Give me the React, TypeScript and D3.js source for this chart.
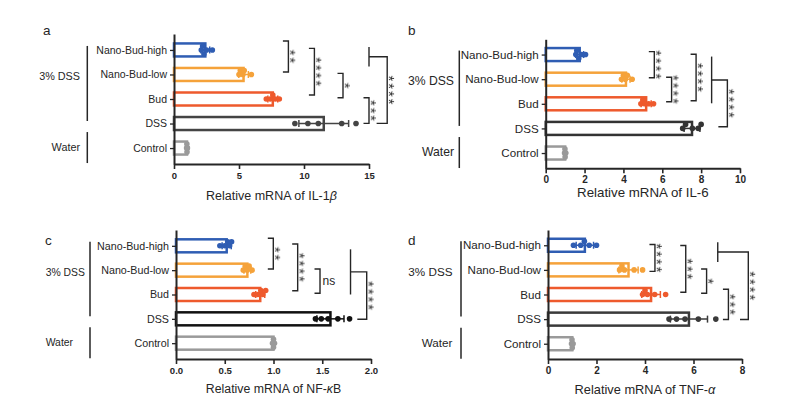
import React, { useEffect, useRef } from "react"
import * as d3 from "d3"

// first = top row of each panel
const groups = ["Nano-Bud-high", "Nano-Bud-low", "Bud", "DSS", "Control"]
const groupColors = ["#2f5db3", "#f5a23a", "#ee5a2d", "#3c3c3c", "#9a9a9a"]

// per-sample values (5 mice per group)
const il1bValues = [
  [2.1, 2.2, 2.3, 2.5, 2.95],
  [5.0, 5.1, 5.3, 5.4, 5.95],
  [7.1, 7.4, 7.6, 7.8, 8.1],
  [9.3, 10.3, 11.1, 12.9, 14.0],
  [0.97, 1.0, 1.02, 0.99, 1.03],
]
const il6Values = [
  [1.55, 1.6, 1.7, 1.85, 2.05],
  [3.9, 4.0, 4.1, 4.2, 4.45],
  [4.9, 5.0, 5.1, 5.3, 5.55],
  [7.05, 7.2, 7.55, 7.85, 8.0],
  [0.97, 1.0, 1.02, 0.99, 1.03],
]
const nfkbValues = [
  [0.45, 0.5, 0.53, 0.55, 0.57],
  [0.69, 0.71, 0.73, 0.75, 0.78],
  [0.8, 0.84, 0.87, 0.89, 0.92],
  [1.43, 1.49, 1.56, 1.66, 1.78],
  [0.99, 1.0, 1.01, 1.0, 1.0],
]
const tnfValues = [
  [1.05, 1.35, 1.5, 1.7, 2.0],
  [2.95, 3.05, 3.15, 3.55, 3.9],
  [3.9, 4.0, 4.1, 4.4, 4.85],
  [4.99, 5.3, 5.65, 6.2, 6.92],
  [0.97, 1.0, 1.02, 0.99, 1.03],
]

const il1bTicks = [0, 5, 10, 15]
const il6Ticks = [0, 2, 4, 6, 8, 10]
const nfkbTicks = [0, 0.5, 1.0, 1.5, 2.0]
const tnfTicks = [0, 2, 4, 6, 8]

// significance comparisons
const il1bSig = [
  { from: 0, to: 1, label: "**" },
  { from: 0, to: 2, label: "****" },
  { from: 1, to: 2, label: "*" },
  { from: 2, to: 3, label: "***" },
]
const il6Sig = [
  { from: 0, to: 1, label: "****" },
  { from: 1, to: 2, label: "****" },
  { from: 0, to: 2, label: "****" },
]
const nfkbSig = [
  { from: 0, to: 1, label: "**" },
  { from: 0, to: 2, label: "****" },
  { from: 1, to: 2, label: "ns" },
]
const tnfSig = [
  { from: 0, to: 1, label: "****" },
  { from: 0, to: 2, label: "***" },
  { from: 1, to: 2, label: "*" },
  { from: 2, to: 3, label: "***" },
]
const treatedVsDss = "****"

const font = "'Liberation Sans', Arial, Helvetica, sans-serif"
const ink = "#262626"

const panels = [
  {
    letter: "a", lx: 43, ly: 35, values: il1bValues, ticks: il1bTicks, fmt: d3.format("d"), max: 15,
    left: 174, right: 369, top: 34, bottom: 164, pad: 0.65,
    title: ["Relative mRNA of IL-1", "β", ""], titleY: 200, titleSize: 12.5, tickSize: 9.5, catSize: 10.5,
    grpSize: 10.8, grpAnchor: "end", grpX: 80, lineX: 87.3, dss: "#444",
    sig: il1bSig,
    sigPos: [
      { x: 8.8, o1: -9, o2: -2.5 },
      { x: 10.8, o1: -1.6, o2: -4 },
      { x: 13.0, o1: -1.1, o2: -1.3 },
      { x: 15.0, o1: -1.3, o2: -0.2 },
    ],
    big: { gx: 15.0, g0: 0, g1: 1, o1: -3, o2: -8, xr: 16.4, o3: -0.2, arm: 10.6 },
  },
  {
    letter: "b", lx: 408, ly: 35, values: il6Values, ticks: il6Ticks, fmt: d3.format("d"), max: 10,
    left: 545.7, right: 740, top: 39.3, bottom: 168.3, pad: 0.62,
    title: ["Relative mRNA of IL-6", "", ""], titleY: 196.5, titleSize: 13.3, tickSize: 10, catSize: 11.6,
    grpSize: 12.2, grpAnchor: "end", grpX: 454, lineX: 459.3, dss: "#333",
    sig: il6Sig,
    sigPos: [
      { x: 5.59, o1: -2.9, o2: -1.5 },
      { x: 6.48, o1: -1.9, o2: -2.1 },
      { x: 7.74, o1: -0.3, o2: -3.1 },
    ],
    big: { gx: 8.54, g0: 0, g1: 2, o1: 2, o2: -0.5, xr: 9.35, o3: -1.7, arm: 9 },
  },
  {
    letter: "c", lx: 45, ly: 245, values: nfkbValues, ticks: nfkbTicks, fmt: d3.format(".1f"), max: 2,
    left: 176, right: 371, top: 230, bottom: 359, pad: 0.65,
    title: ["Relative mRNA of NF-", "κ", "B"], titleY: 393, titleSize: 12.3, tickSize: 9.6, catSize: 10.7,
    grpSize: 10.4, grpAnchor: "start", grpX: 45.7, lineX: 90, dss: "#111",
    sig: nfkbSig,
    sigPos: [
      { x: 0.998, o1: -7.5, o2: -1.2 },
      { x: 1.248, o1: -1.8, o2: -3.8 },
      { x: 1.477, o1: -1.2, o2: -1.2 },
    ],
    big: { gx: 1.79, g0: 0, g1: 2, o1: 3.5, o2: 0, xr: 1.956, o3: 0.4, arm: 9.4 },
  },
  {
    letter: "d", lx: 408, ly: 245, values: tnfValues, ticks: tnfTicks, fmt: d3.format("d"), max: 8,
    left: 548, right: 742, top: 230, bottom: 359, pad: 0.62,
    title: ["Relative mRNA of TNF-", "α", ""], titleY: 394, titleSize: 12.8, tickSize: 10, catSize: 11.6,
    grpSize: 11.7, grpAnchor: "end", grpX: 452.5, lineX: 461, dss: "#3a3a3a",
    sig: tnfSig,
    sigPos: [
      { x: 4.41, o1: -0.8, o2: 1.5 },
      { x: 5.68, o1: 0.2, o2: -2.2 },
      { x: 6.54, o1: -0.9, o2: -1.2 },
      { x: 7.44, o1: -5.2, o2: 0.4 },
    ],
    big: { gx: 7.0, g0: 0, g1: 1, o1: -3, o2: -8, xr: 8.26, o3: 0.4, arm: 8.3 },
  },
]

// small beeswarm so the dots don't all sit on one line
function swarm(vals, x, r) {
  const placed = []
  const res = new Array(vals.length).fill(0)
  const offs = [0, -4, 4]
  vals.map((v, i) => ({ v, i })).sort((a, b) => a.v - b.v).forEach(({ v, i }) => {
    const px = x(v)
    const dy = offs.find(o => placed.every(p => Math.hypot(p.px - px, p.dy - o) >= 1.3 * r))
    const d = dy === undefined ? 0 : dy
    placed.push({ px, dy: d })
    res[i] = d
  })
  return res
}

function drawLabel(g, text, x, cy) {
  if (text.includes("*")) {
    // stars are stacked vertically: one rotated string
    const fs = 15
    const spacing = 7.7
    const ls = spacing - 0.389 * fs
    g.append("text")
      .attr("transform", `translate(${x + 5.5 - 0.575 * fs},${cy + ls / 2}) rotate(90)`)
      .attr("text-anchor", "middle")
      .attr("letter-spacing", ls)
      .attr("font-size", fs)
      .attr("font-family", font)
      .attr("fill", "#1e1e1e")
      .attr("filter", "url(#flat)")
      .text(text)
  } else {
    g.append("text")
      .attr("x", x + 2.5)
      .attr("y", cy)
      .attr("dominant-baseline", "central")
      .attr("font-size", 12)
      .attr("font-family", font)
      .attr("fill", ink)
      .text(text)
  }
}

function Panel({ cfg }) {
  const ref = useRef(null)

  useEffect(() => {
    const g = d3.select(ref.current)
    g.selectAll("*").remove()

    const x = d3.scaleLinear().domain([0, cfg.max]).range([cfg.left, cfg.right])
    const y = d3.scalePoint().domain(groups).range([cfg.top, cfg.bottom]).padding(cfg.pad)
    const colors = groupColors.map((c, i) => (i === 3 ? cfg.dss : c))

    const stats = groups.map((name, i) => ({
      name,
      i,
      vals: cfg.values[i],
      mean: d3.mean(cfg.values[i]),
      sd: d3.deviation(cfg.values[i]),
    }))

    // bars
    g.selectAll(".bar")
      .data(stats)
      .join("rect")
      .attr("x", x(0))
      .attr("y", d => y(d.name) - 6.5)
      .attr("width", d => x(d.mean) - x(0))
      .attr("height", 13)
      .attr("fill", "white")
      .attr("stroke", d => colors[d.i])
      .attr("stroke-width", 2.5)

    // error bars (SD)
    stats.forEach(d => {
      const cy = y(d.name)
      const eg = g.append("g").attr("stroke", colors[d.i]).attr("stroke-width", 1.5)
      eg.append("line").attr("x1", x(d.mean - d.sd)).attr("x2", x(d.mean + d.sd)).attr("y1", cy).attr("y2", cy)
      ;[d.mean - d.sd, d.mean + d.sd].forEach(v => {
        eg.append("line").attr("x1", x(v)).attr("x2", x(v)).attr("y1", cy - 3.5).attr("y2", cy + 3.5)
      })
    })

    // points
    stats.forEach(d => {
      const dys = swarm(d.vals, x, 2.8)
      g.append("g")
        .selectAll("circle")
        .data(d.vals)
        .join("circle")
        .attr("cx", v => x(v))
        .attr("cy", (v, k) => y(d.name) + dys[k])
        .attr("r", 2.8)
        .attr("fill", colors[d.i])
    })

    // axes
    const xa = g.append("g")
      .attr("transform", `translate(0,${cfg.bottom})`)
      .call(d3.axisBottom(x).tickValues(cfg.ticks).tickFormat(cfg.fmt).tickSize(5).tickSizeOuter(0).tickPadding(3))
    xa.select(".domain").attr("stroke", ink).attr("stroke-width", 2)
    xa.selectAll(".tick line").attr("stroke", ink).attr("stroke-width", 1.6)
    xa.selectAll(".tick text")
      .attr("font-size", cfg.tickSize)
      .attr("font-weight", "bold")
      .attr("font-family", font)
      .attr("fill", ink)

    const ya = g.append("g")
      .attr("transform", `translate(${cfg.left},0)`)
      .call(d3.axisLeft(y).tickSize(4).tickSizeOuter(0).tickPadding(3))
    ya.select(".domain").attr("stroke", ink).attr("stroke-width", 2)
    ya.selectAll(".tick line").attr("stroke", ink).attr("stroke-width", 1.3)
    ya.selectAll(".tick text")
      .attr("font-size", cfg.catSize)
      .attr("font-family", font)
      .attr("fill", ink)

    // axis title
    const t = g.append("text")
      .attr("x", (cfg.left + cfg.right) / 2)
      .attr("y", cfg.titleY)
      .attr("text-anchor", "middle")
      .attr("font-size", cfg.titleSize)
      .attr("font-family", font)
      .attr("fill", ink)
    t.append("tspan").text(cfg.title[0])
    if (cfg.title[1]) t.append("tspan").attr("font-style", "italic").text(cfg.title[1])
    if (cfg.title[2]) t.append("tspan").text(cfg.title[2])

    // panel letter
    g.append("text")
      .attr("x", cfg.lx)
      .attr("y", cfg.ly)
      .attr("font-size", 13.5)
      .attr("font-family", font)
      .attr("fill", ink)
      .text(cfg.letter)

    // treatment grouping at left
    const c = groups.map(n => y(n))
    const lg = g.append("g").attr("stroke", ink).attr("stroke-width", 1.5)
    lg.append("line").attr("x1", cfg.lineX).attr("x2", cfg.lineX).attr("y1", c[0] - 4).attr("y2", c[3] - 2.5)
    lg.append("line").attr("x1", cfg.lineX).attr("x2", cfg.lineX).attr("y1", c[4] - 16).attr("y2", c[4] + 15)
    ;[["3% DSS", c[1] + 2], ["Water", c[4] - 1]].forEach(([txt, yy]) => {
      g.append("text")
        .attr("x", cfg.grpX)
        .attr("y", yy)
        .attr("dominant-baseline", "central")
        .attr("text-anchor", cfg.grpAnchor)
        .attr("font-size", cfg.grpSize)
        .attr("font-family", font)
        .attr("fill", ink)
        .text(txt)
    })

    // significance brackets
    const bg = g.append("g")
    cfg.sig.forEach((s, k) => {
      const p = cfg.sigPos[k]
      const xr = x(p.x)
      const y1 = c[s.from] + p.o1
      const y2 = c[s.to] + p.o2
      bg.append("path")
        .attr("d", `M${xr - 5.5},${y1}H${xr}V${y2}H${xr - 5.5}`)
        .attr("fill", "none")
        .attr("stroke", ink)
        .attr("stroke-width", 1.4)
      drawLabel(bg, s.label, xr, (y1 + y2) / 2)
    })

    // treated groups vs DSS
    const b = cfg.big
    const gx = x(b.gx)
    const gy1 = c[b.g0] + b.o1
    const gy2 = c[b.g1] + b.o2
    const jy = (gy1 + gy2) / 2
    const xr = x(b.xr)
    const y3 = c[3] + b.o3
    bg.append("line").attr("x1", gx).attr("x2", gx).attr("y1", gy1).attr("y2", gy2)
      .attr("stroke", ink).attr("stroke-width", 1.4)
    bg.append("path")
      .attr("d", `M${gx},${jy}H${xr}V${y3}H${xr - b.arm}`)
      .attr("fill", "none")
      .attr("stroke", ink)
      .attr("stroke-width", 1.4)
    drawLabel(bg, treatedVsDss, xr, (jy + y3) / 2)
  })

  return <g ref={ref}></g>
}

export default function App() {
  return (
    <svg
      width={802}
      height={399}
      style={{ position: "absolute", left: 0, top: 0, background: "white" }}
    >
      <defs>
        <filter id="flat" x="-50%" y="-50%" width="200%" height="200%">
          <feOffset dx="0" dy="0" />
        </filter>
      </defs>
      {panels.map(p => (
        <Panel key={p.letter} cfg={p} />
      ))}
    </svg>
  )
}
